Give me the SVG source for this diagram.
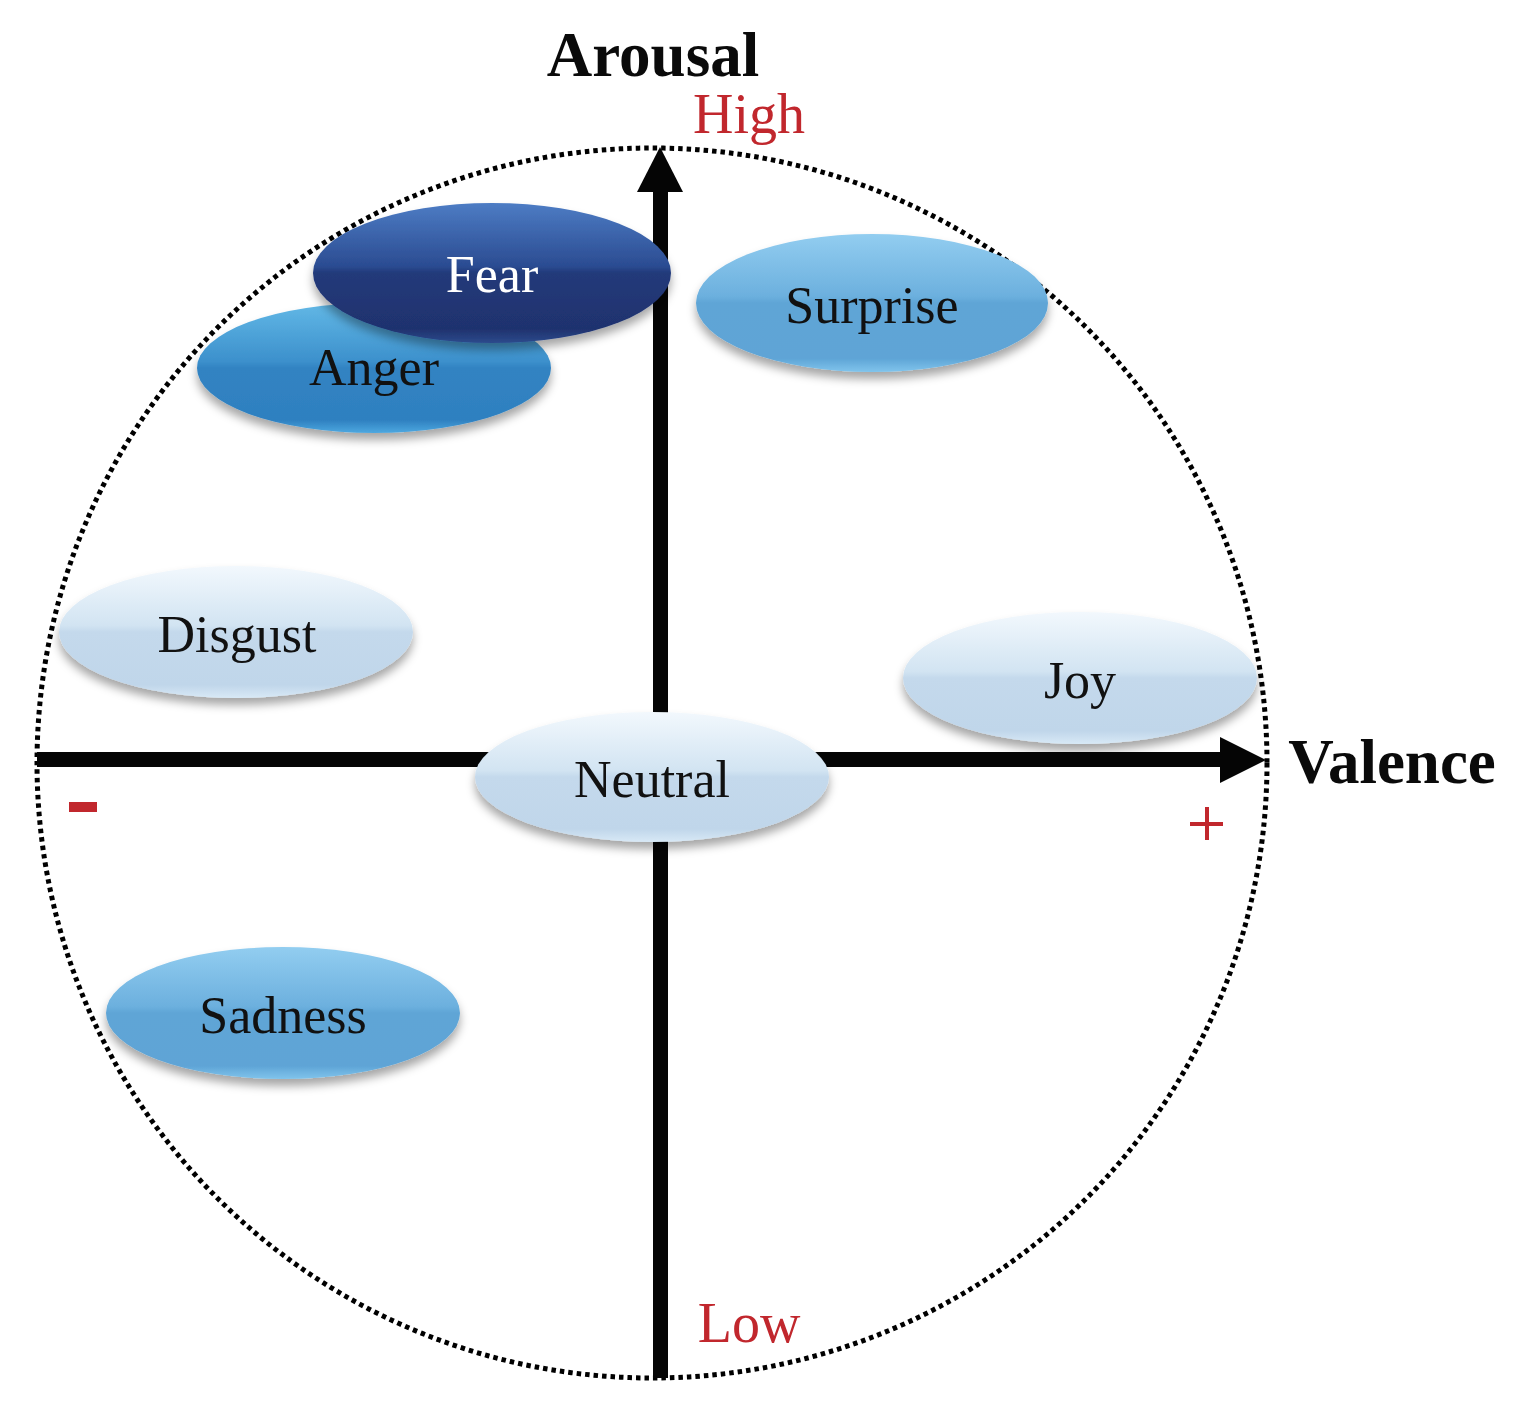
<svg xmlns="http://www.w3.org/2000/svg" width="1525" height="1416" viewBox="0 0 1525 1416">
<style>
.lbl{font-family:"Liberation Serif","Times New Roman",serif;font-size:52px;text-anchor:middle;fill:#111}
.ax{font-family:"Liberation Serif","Times New Roman",serif;font-size:63px;font-weight:bold;fill:#0a0a0a}
.red{font-family:"Liberation Serif","Times New Roman",serif;font-size:56px;fill:#c1272d}
</style>
<defs>
<filter id="sh" x="-20%" y="-30%" width="140%" height="170%">
<feDropShadow dx="0" dy="7" stdDeviation="5" flood-color="#000" flood-opacity="0.35"/>
</filter>
<linearGradient id="gFear" x1="0" y1="0" x2="0" y2="1">
<stop offset="0" stop-color="#4d7cc4"/><stop offset="0.45" stop-color="#2b4c92"/><stop offset="0.5" stop-color="#223a7a"/><stop offset="0.9" stop-color="#1f326e"/><stop offset="1" stop-color="#2c4a8c"/>
</linearGradient>
<linearGradient id="gAnger" x1="0" y1="0" x2="0" y2="1">
<stop offset="0" stop-color="#62b8e6"/><stop offset="0.45" stop-color="#3c90cc"/><stop offset="0.5" stop-color="#3283c2"/><stop offset="0.9" stop-color="#2e80c0"/><stop offset="1" stop-color="#4ea8e0"/>
</linearGradient>
<linearGradient id="gMid" x1="0" y1="0" x2="0" y2="1">
<stop offset="0" stop-color="#92cdf0"/><stop offset="0.45" stop-color="#6cb0de"/><stop offset="0.5" stop-color="#5fa5d6"/><stop offset="0.9" stop-color="#5ea4d6"/><stop offset="1" stop-color="#80c4ec"/>
</linearGradient>
<linearGradient id="gLight" x1="0" y1="0" x2="0" y2="1">
<stop offset="0" stop-color="#f2f8fd"/><stop offset="0.45" stop-color="#d2e4f2"/><stop offset="0.5" stop-color="#c4d9ec"/><stop offset="0.9" stop-color="#c0d6ea"/><stop offset="1" stop-color="#d8e9f6"/>
</linearGradient>
</defs>
<rect width="1525" height="1416" fill="#fff"/>
<g id="circle">
<ellipse cx="652" cy="763" rx="615" ry="615" fill="none" stroke="#000" stroke-width="5" stroke-dasharray="4.5 4"/>
</g>
<g id="connectors">
<rect x="653" y="190" width="15" height="1188" fill="#050505"/>
<polygon points="660,147 683,192 637,192" fill="#050505"/>
<rect x="37" y="752" width="1185" height="15" fill="#050505"/>
<polygon points="1266,760 1220,737 1220,783" fill="#050505"/>
</g>
<g id="axis-labels">
<text class="ax" x="653" y="76" text-anchor="middle">Arousal</text>
<text class="red" x="749" y="133" text-anchor="middle">High</text>
<text class="ax" x="1392" y="783" text-anchor="middle">Valence</text>
<text class="red" x="749" y="1342" text-anchor="middle">Low</text>
<rect x="69" y="802" width="28" height="10" fill="#c1272d"/>
<path d="M1190 824H1223M1207 807V840" stroke="#c1272d" stroke-width="4" fill="none"/>
</g>
<g id="anger">
<ellipse cx="374" cy="368" rx="177" ry="65" fill="url(#gAnger)" filter="url(#sh)"/>
<text class="lbl" x="374" y="385">Anger</text>
</g>
<g id="fear">
<ellipse cx="492" cy="273" rx="179" ry="70" fill="url(#gFear)" filter="url(#sh)"/>
<text class="lbl" x="492" y="292" style="fill:#fff">Fear</text>
</g>
<g id="surprise">
<ellipse cx="872" cy="303" rx="176" ry="69" fill="url(#gMid)" filter="url(#sh)"/>
<text class="lbl" x="872" y="323">Surprise</text>
</g>
<g id="disgust">
<ellipse cx="236" cy="632" rx="177" ry="66" fill="url(#gLight)" filter="url(#sh)"/>
<text class="lbl" x="237" y="652">Disgust</text>
</g>
<g id="joy">
<ellipse cx="1080" cy="678" rx="177" ry="66" fill="url(#gLight)" filter="url(#sh)"/>
<text class="lbl" x="1080" y="698">Joy</text>
</g>
<g id="neutral">
<ellipse cx="652" cy="777" rx="177" ry="65" fill="url(#gLight)" filter="url(#sh)"/>
<text class="lbl" x="652" y="797">Neutral</text>
</g>
<g id="sadness">
<ellipse cx="283" cy="1013" rx="177" ry="66" fill="url(#gMid)" filter="url(#sh)"/>
<text class="lbl" x="283" y="1033">Sadness</text>
</g>
</svg>
